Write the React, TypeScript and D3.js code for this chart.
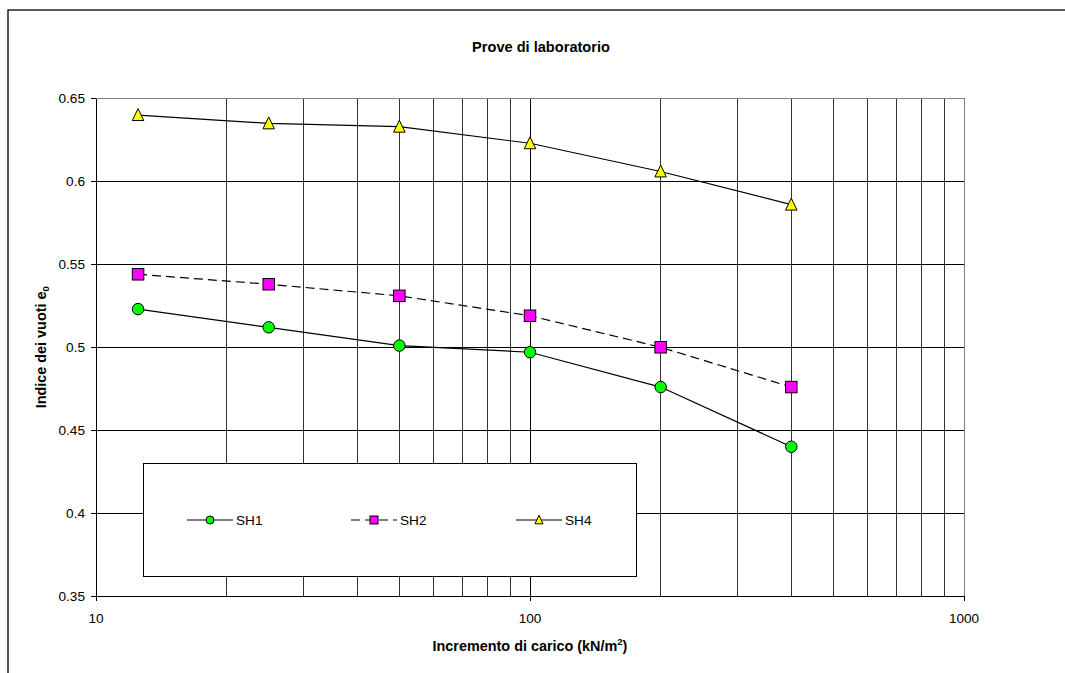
import { useEffect, useRef } from 'react';
import * as d3 from 'd3';

// load increments (kN/m2)
const loads = [12.5, 25, 50, 100, 200, 400];
const sh1 = [0.523, 0.512, 0.501, 0.497, 0.476, 0.44];
const sh2 = [0.544, 0.538, 0.531, 0.519, 0.5, 0.476];
const sh4 = [0.64, 0.635, 0.633, 0.623, 0.606, 0.586];
const yTicks = [0.35, 0.4, 0.45, 0.5, 0.55, 0.6, 0.65];
const xMajor = [10, 100, 1000];
const xMinor = [20, 30, 40, 50, 60, 70, 80, 90, 200, 300, 400, 500, 600, 700, 800, 900];

const FONT = 'Arial, "Liberation Sans", sans-serif';

export default function App() {
  const svgRef = useRef<SVGSVGElement>(null);

  useEffect(() => {
    if (!svgRef.current) return;
    const svg = d3.select(svgRef.current);
    svg.selectAll('*').remove();

    const m = { l: 96, t: 98.5, r: 964, b: 596 };
    const x = d3.scaleLog().domain([10, 1000]).range([m.l, m.r]);
    const y = d3.scaleLinear().domain([0.35, 0.65]).range([m.b, m.t]);

    // outer chart frame (clipped by the page)
    svg.append('rect').attr('x', 9).attr('y', 11).attr('width', 1100).attr('height', 700)
      .attr('fill', 'none').attr('stroke', '#999').attr('stroke-width', 1);
    svg.append('rect').attr('x', 8).attr('y', 10).attr('width', 1100).attr('height', 700)
      .attr('fill', '#fff').attr('stroke', '#000').attr('stroke-width', 1.3);

    // grid
    const grid = svg.append('g').attr('shape-rendering', 'crispEdges');
    [...xMinor, ...xMajor].forEach(v => {
      grid.append('line').attr('x1', x(v)).attr('x2', x(v)).attr('y1', m.t).attr('y2', m.b)
        .attr('stroke', xMajor.includes(v) ? '#000' : '#333').attr('stroke-width', 1);
    });
    yTicks.forEach(v => {
      grid.append('line').attr('x1', m.l).attr('x2', m.r).attr('y1', y(v)).attr('y2', y(v))
        .attr('stroke', '#000').attr('stroke-width', 1);
    });
    // plot border top/right (gray)
    grid.append('path').attr('d', `M${m.l},${m.t}H${m.r}V${m.b}`).attr('fill', 'none').attr('stroke', '#808080');

    // axes
    const ax = svg.append('g').attr('shape-rendering', 'crispEdges');
    ax.append('line').attr('x1', m.l).attr('x2', m.l).attr('y1', m.t).attr('y2', m.b).attr('stroke', '#000');
    ax.append('line').attr('x1', m.l).attr('x2', m.r).attr('y1', m.b).attr('y2', m.b).attr('stroke', '#000');
    yTicks.forEach(v => {
      ax.append('line').attr('x1', m.l - 5).attr('x2', m.l).attr('y1', y(v)).attr('y2', y(v)).attr('stroke', '#000');
      svg.append('text').attr('x', 85).attr('y', y(v)).attr('dy', '0.36em').attr('text-anchor', 'end')
        .attr('font-family', FONT).attr('font-size', 13.6).text(String(v));
    });
    xMajor.forEach(v => {
      ax.append('line').attr('x1', x(v)).attr('x2', x(v)).attr('y1', m.b).attr('y2', m.b + 5).attr('stroke', '#000');
      svg.append('text').attr('x', x(v)).attr('y', 623).attr('text-anchor', 'middle')
        .attr('font-family', FONT).attr('font-size', 13.6).text(String(v));
    });

    // titles
    svg.append('text').attr('x', 541).attr('y', 52).attr('text-anchor', 'middle')
      .attr('font-family', FONT).attr('font-size', 14.6).attr('font-weight', 'bold').text('Prove di laboratorio');
    const xl = svg.append('text').attr('x', 530).attr('y', 651).attr('text-anchor', 'middle')
      .attr('font-family', FONT).attr('font-size', 14.4).attr('font-weight', 'bold');
    xl.append('tspan').text('Incremento di carico (kN/m');
    xl.append('tspan').attr('font-size', 9.5).attr('dy', -6).text('2');
    xl.append('tspan').attr('dy', 6).text(')');
    const yl = svg.append('text').attr('transform', `translate(46,${(m.t + m.b) / 2}) rotate(-90)`)
      .attr('text-anchor', 'middle').attr('font-family', FONT).attr('font-size', 14.4).attr('font-weight', 'bold');
    yl.append('tspan').text('Indice dei vuoti e');
    yl.append('tspan').attr('font-size', 9.5).attr('dy', 3).text('0');

    // markers
    const marker = (g: d3.Selection<SVGGElement, unknown, null, undefined>, kind: string, cx: number, cy: number, s: number) => {
      if (kind === 'circle') {
        g.append('circle').attr('cx', cx).attr('cy', cy).attr('r', s / 2)
          .attr('fill', '#00ff00').attr('stroke', '#000').attr('stroke-width', 1);
      } else if (kind === 'square') {
        g.append('rect').attr('x', cx - s / 2).attr('y', cy - s / 2).attr('width', s).attr('height', s)
          .attr('fill', '#ff00ff').attr('stroke', '#000').attr('stroke-width', 1);
      } else {
        const h = s * 0.95;
        g.append('path').attr('d', `M${cx},${cy - h / 2 - 1}L${cx + s / 2},${cy + h / 2}L${cx - s / 2},${cy + h / 2}Z`)
          .attr('fill', '#ffff00').attr('stroke', '#000').attr('stroke-width', 1);
      }
    };

    const series = [
      { name: 'SH1', vals: sh1, kind: 'circle', dash: null as string | null },
      { name: 'SH2', vals: sh2, kind: 'square', dash: '9,5' },
      { name: 'SH4', vals: sh4, kind: 'triangle', dash: null as string | null },
    ];
    const line = d3.line<number>().x((_, i) => x(loads[i])).y(d => y(d));
    series.forEach(s => {
      const g = svg.append('g');
      g.append('path').datum(s.vals).attr('d', line).attr('fill', 'none').attr('stroke', '#000')
        .attr('stroke-width', 1.2).attr('stroke-dasharray', s.dash);
      s.vals.forEach((v, i) => marker(g, s.kind, x(loads[i]), y(v), 11.5));
    });

    // legend
    const lg = svg.append('g');
    lg.append('rect').attr('x', 143).attr('y', 463.5).attr('width', 493).attr('height', 112.5)
      .attr('fill', '#fff').attr('stroke', '#000').attr('stroke-width', 1).attr('shape-rendering', 'crispEdges');
    const lx = [187, 351, 516];
    series.forEach((s, i) => {
      const x0 = lx[i], ly = 520;
      lg.append('line').attr('x1', x0).attr('x2', x0 + 46).attr('y1', ly).attr('y2', ly)
        .attr('stroke', '#000').attr('stroke-width', 1.2).attr('stroke-dasharray', s.dash);
      marker(lg, s.kind, x0 + 23, ly, 8);
      lg.append('text').attr('x', x0 + 49).attr('y', ly).attr('dy', '0.38em')
        .attr('font-family', FONT).attr('font-size', 13.6).text(s.name);
    });
  }, []);

  return (
    <svg ref={svgRef} width={1065} height={673}
      style={{ position: 'absolute', left: 0, top: 0, background: '#fff' }} />
  );
}
